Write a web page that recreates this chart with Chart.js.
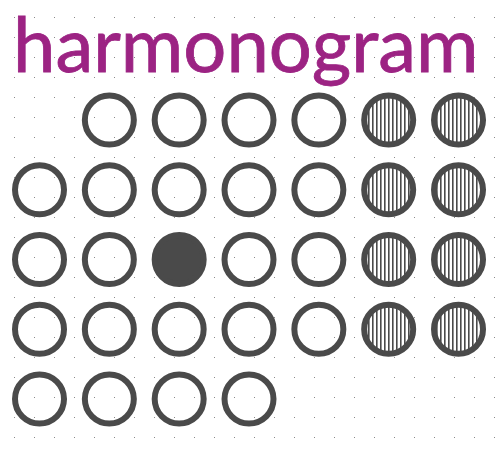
<!DOCTYPE html>
<html>
<head>
<meta charset="utf-8">
<script src="https://cdn.jsdelivr.net/npm/chart.js@4/dist/chart.umd.min.js"></script>
<style>
  html, body { margin: 0; padding: 0; background: #ffffff; }
  #wrap { position: relative; width: 503px; height: 454px; }
  #c { position: absolute; left: 0; top: 0; }
  #title { position: absolute; left: 13px; top: 5px; font-family: Lato, sans-serif; font-size: 76px; line-height: 76px; color: #9c2383; white-space: nowrap; -webkit-text-stroke: 0.8px #9c2383; }
</style>
</head>
<body>
<div id="wrap">
  <canvas id="c" width="503" height="454"></canvas>
  <div id="title">harmonogram</div>
</div>
<script>
// ---- data ----
const titleText = 'harmonogram';
const days = [1,2,3,4,5,6,7,8,9,10,11,12,13,14,15,16,17,18,19,20,21,22,23,24,25,26,27,28,29,30,31];
const firstDayColumn = 2; // month starts in the 2nd column
const dayStatus = [
  'open','open','open','open','weekend','weekend',
  'open','open','open','open','open','weekend','weekend',
  'open','open','done','open','open','weekend','weekend',
  'open','open','open','open','open','weekend','weekend',
  'open','open','open','open'
];

// ---- build ----
const ink = '#4a4a4a';
function hatch() {
  const p = document.createElement('canvas');
  p.width = 4; p.height = 4;
  const g = p.getContext('2d');
  g.fillStyle = '#ffffff'; g.fillRect(0, 0, 4, 4);
  g.fillStyle = ink; g.fillRect(0, 0, 1.6, 4);
  return g.createPattern(p, 'repeat');
}
const hatchPattern = hatch();

const points = days.map((d, i) => {
  const slot = d - 1 + firstDayColumn - 1;
  return { x: (slot % 7) + 1, y: Math.floor(slot / 7) + 1 };
});
const fills = dayStatus.map(s => s === 'weekend' ? hatchPattern : (s === 'done' ? ink : 'rgba(0,0,0,0)'));

new Chart(document.getElementById('c'), {
  type: 'scatter',
  data: {
    datasets: [{
      data: points,
      pointStyle: 'circle',
      pointRadius: 24.5,
      pointBorderWidth: 6,
      borderColor: ink,
      pointBorderColor: ink,
      pointBackgroundColor: fills,
      backgroundColor: fills,
      clip: false
    }]
  },
  options: {
    responsive: false,
    animation: false,
    events: [],
    layout: { padding: 0, autoPadding: false },
    plugins: { legend: { display: false }, tooltip: { enabled: false }, title: { display: false } },
    scales: {
      x: { type: 'linear', display: false, min: 0.4343, max: 7.637 },
      y: { type: 'linear', display: false, reverse: true, min: -0.7204, max: 5.7885 },
      gx: {
        type: 'linear', position: 'bottom', axis: 'x', display: true,
        min: -14, max: 489,
        ticks: { display: false, stepSize: 20, includeBounds: false, maxTicksLimit: 1000, autoSkip: false },
        grid: { color: '#8a8a8a', lineWidth: 1, drawTicks: false, drawOnChartArea: true },
        border: { display: false, dash: [1, 19], dashOffset: 3 }
      }
    }
  }
});
</script>
</body>
</html>
